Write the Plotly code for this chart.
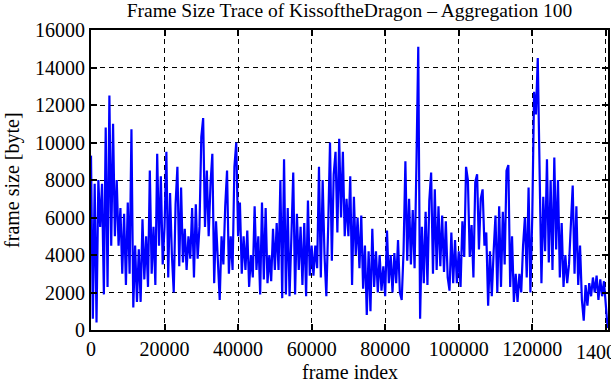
import plotly.graph_objects as go

# frame index (aggregation of 100 frames, sampled every 500 frames for reading)
frame_index = list(range(0, 140501, 500))

# frame size in bytes
frame_size = [
    9300, 600, 7800, 400, 8000, 5500, 7800, 1900, 10800, 2300,
    12500, 4500, 11000, 5000, 8000, 4500, 6500, 3000, 6200, 2400,
    6800, 3000, 10700, 1200, 4500, 1500, 4300, 1500, 5900, 2700,
    5000, 2300, 8500, 3000, 5500, 2400, 9400, 4500, 8200, 3500,
    5500, 9500, 2800, 7300, 4000, 2000, 6700, 8700, 3400, 7600,
    3600, 5400, 3200, 5000, 3800, 6500, 2800, 6700, 3800, 5500,
    10300, 11300, 5500, 8500, 5000, 7800, 9400, 2500, 5800, 3500,
    1600, 5000, 3500, 6600, 8500, 3000, 5000, 3200, 8700, 10000,
    5000, 6800, 3000, 5000, 3200, 5300, 2300, 4000, 2800, 6600,
    3200, 5000, 1900, 6800, 2700, 6500, 2500, 4000, 2600, 5400,
    3200, 5700, 3200, 8000, 1700, 9100, 1900, 6500, 1800, 5000,
    8400, 1900, 6200, 3200, 5500, 2400, 5700, 1800, 6900, 2900,
    4500, 2900, 4500, 3300, 8700, 2800, 8000, 4000, 1800, 5500,
    10000, 3700, 8300, 9500, 5200, 10200, 6000, 9500, 5000, 7000,
    5000, 8200, 2400, 7100, 4000, 6000, 3300, 6100, 2200, 4500,
    800, 4200, 1000, 5400, 2300, 4200, 2000, 4000, 2100, 3400,
    1800, 5300, 2500, 4000, 2000, 4100, 2500, 4800, 2000, 1600,
    4200, 9000, 3700, 7000, 3500, 6400, 3300, 8800, 15100, 600,
    5500, 2500, 6300, 2400, 6900, 8400, 3000, 7500, 3200, 6600,
    3400, 6100, 3100, 5800, 2800, 2100, 5200, 2500, 4800, 2500,
    4200, 2300, 5800, 3900, 8700, 8000, 3900, 5600, 2800, 7900,
    8300, 4300, 7000, 7500, 4500, 5200, 1300, 4200, 1800, 4200,
    6100, 2000, 6600, 2300, 6300, 3500, 8500, 8800, 2300, 5000,
    1500, 3000, 1500, 3000, 2000, 4500, 6000, 2800, 7600, 2000,
    6000, 12700, 11500, 14500, 8000, 2500, 7100, 4200, 9100, 3600,
    8000, 3200, 9200, 4300, 8000, 2800, 5700, 2300, 4000, 2500,
    3500, 6000, 7700, 3000, 6600, 2400, 4500, 1600, 500, 2400,
    1300, 2500, 1800, 2800, 2000, 2900, 1600, 2700, 1800, 2600,
    1300, 100,
]

x_ticks = [0, 20000, 40000, 60000, 80000, 100000, 120000, 140000]
y_ticks = [0, 2000, 4000, 6000, 8000, 10000, 12000, 14000, 16000]

fig = go.Figure()
fig.add_trace(go.Scatter(
    x=frame_index, y=frame_size, mode="lines",
    line=dict(color="#0000ff", width=2.2),
    showlegend=False,
))

font = dict(family="Liberation Serif, serif", size=20, color="black")

axis_common = dict(
    showline=True, linecolor="black", linewidth=2, mirror="ticks",
    ticks="inside", ticklen=6, tickwidth=2, tickcolor="black",
    showgrid=True, gridcolor="black", gridwidth=1, griddash="5px,4px",
    zeroline=False, tickfont=font, automargin=False,
)

# last x tick label sits past the right edge (cut off, as in the reference)
last_tick = x_ticks[-1]

fig.update_layout(
    width=611, height=380,
    margin=dict(l=91, r=3, t=30, b=50),
    paper_bgcolor="white", plot_bgcolor="white",
    font=font,
    title=dict(text="Frame Size Trace of KissoftheDragon \u2013 Aggregation 100",
               x=0.5, xref="paper", y=0.972, yref="container", yanchor="middle",
               font=dict(family="Liberation Serif, serif", size=19.5, color="black")),
    xaxis=dict(range=[0, 140600], tickvals=x_ticks[:-1] + [last_tick],
               ticktext=[str(v) for v in x_ticks[:-1]] + [""], **axis_common),
    yaxis=dict(range=[0, 16000], tickvals=y_ticks,
               ticktext=[str(v) for v in y_ticks], **axis_common),
    annotations=[
        dict(text=str(last_tick), xref="x", yref="paper", x=last_tick, y=-0.073,
             xanchor="center", yanchor="middle", showarrow=False, font=font),
        dict(text="frame index", xref="paper", yref="paper", x=0.5, y=-0.14,
             xanchor="center", yanchor="middle", showarrow=False, font=font),
        dict(text="frame size [byte]", xref="paper", yref="paper", x=-0.153, y=0.5,
             xanchor="center", yanchor="middle", textangle=-90,
             showarrow=False, font=font),
    ],
)

fig.write_html(
    "out.html",
    config={"displayModeBar": False},
    post_script="document.body.style.margin='0';document.body.style.overflow='hidden';",
)
